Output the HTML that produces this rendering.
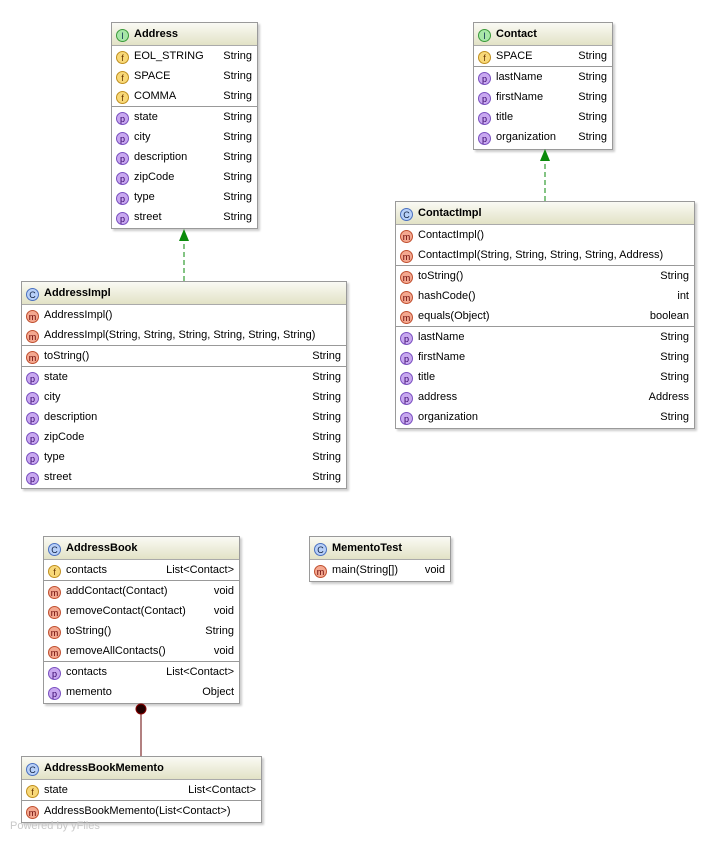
<!DOCTYPE html>
<html><head><meta charset="utf-8"><style>
body{margin:0;width:716px;height:843px;background:#fff;position:relative;font-family:"Liberation Sans",sans-serif;font-size:11px;color:#000;overflow:hidden}
.b{position:absolute;border:1px solid #9a9a9a;background:#fff;box-shadow:2px 2px 2px #ccc;box-sizing:border-box}
.h{height:23px;line-height:23px;font-weight:bold;background:linear-gradient(#fafaf4,#e2e2c6);padding-left:4px;border-bottom:1px solid #aaa;box-sizing:border-box;white-space:nowrap}
.r{height:20px;line-height:21px;position:relative;padding-left:4px;white-space:nowrap}
.r .t{position:absolute;right:5px;top:0}
.s{border-top:1px solid #999}
.i{display:inline-block;width:13px;height:13px;border-radius:50%;font-size:9px;line-height:12px;text-align:center;vertical-align:-2px;margin-right:5px;font-weight:normal;box-sizing:border-box}
.I{background:#a8e6a8;border:1px solid #3a9a3a;color:#135}
.C{background:#b8d0f8;border:1px solid #4a70c0;color:#124}
.f{background:#f8d878;border:1px solid #c09020;color:#630}
.m{background:#f4a890;border:1px solid #c05030;color:#600}
.p{background:#c8a8f0;border:1px solid #7a50c0;color:#306}
svg{z-index:5}
</style></head><body>

<div class="b" style="left:111px;top:22px;width:147px;height:207px">
<div class="h"><span class="i I">I</span>Address</div>
<div class="r"><span class="i f">f</span>EOL_STRING<span class="t">String</span></div>
<div class="r"><span class="i f">f</span>SPACE<span class="t">String</span></div>
<div class="r"><span class="i f">f</span>COMMA<span class="t">String</span></div>
<div class="r s"><span class="i p">p</span>state<span class="t">String</span></div>
<div class="r"><span class="i p">p</span>city<span class="t">String</span></div>
<div class="r"><span class="i p">p</span>description<span class="t">String</span></div>
<div class="r"><span class="i p">p</span>zipCode<span class="t">String</span></div>
<div class="r"><span class="i p">p</span>type<span class="t">String</span></div>
<div class="r"><span class="i p">p</span>street<span class="t">String</span></div>
</div>

<div class="b" style="left:473px;top:22px;width:140px;height:128px">
<div class="h"><span class="i I">I</span>Contact</div>
<div class="r"><span class="i f">f</span>SPACE<span class="t">String</span></div>
<div class="r s"><span class="i p">p</span>lastName<span class="t">String</span></div>
<div class="r"><span class="i p">p</span>firstName<span class="t">String</span></div>
<div class="r"><span class="i p">p</span>title<span class="t">String</span></div>
<div class="r"><span class="i p">p</span>organization<span class="t">String</span></div>
</div>

<div class="b" style="left:395px;top:201px;width:300px;height:228px">
<div class="h"><span class="i C">C</span>ContactImpl</div>
<div class="r"><span class="i m">m</span>ContactImpl()</div>
<div class="r"><span class="i m">m</span>ContactImpl(String, String, String, String, Address)</div>
<div class="r s"><span class="i m">m</span>toString()<span class="t">String</span></div>
<div class="r"><span class="i m">m</span>hashCode()<span class="t">int</span></div>
<div class="r"><span class="i m">m</span>equals(Object)<span class="t">boolean</span></div>
<div class="r s"><span class="i p">p</span>lastName<span class="t">String</span></div>
<div class="r"><span class="i p">p</span>firstName<span class="t">String</span></div>
<div class="r"><span class="i p">p</span>title<span class="t">String</span></div>
<div class="r"><span class="i p">p</span>address<span class="t">Address</span></div>
<div class="r"><span class="i p">p</span>organization<span class="t">String</span></div>
</div>

<div class="b" style="left:21px;top:281px;width:326px;height:208px">
<div class="h"><span class="i C">C</span>AddressImpl</div>
<div class="r"><span class="i m">m</span>AddressImpl()</div>
<div class="r"><span class="i m">m</span>AddressImpl(String, String, String, String, String, String)</div>
<div class="r s"><span class="i m">m</span>toString()<span class="t">String</span></div>
<div class="r s"><span class="i p">p</span>state<span class="t">String</span></div>
<div class="r"><span class="i p">p</span>city<span class="t">String</span></div>
<div class="r"><span class="i p">p</span>description<span class="t">String</span></div>
<div class="r"><span class="i p">p</span>zipCode<span class="t">String</span></div>
<div class="r"><span class="i p">p</span>type<span class="t">String</span></div>
<div class="r"><span class="i p">p</span>street<span class="t">String</span></div>
</div>

<div class="b" style="left:43px;top:536px;width:197px;height:168px">
<div class="h"><span class="i C">C</span>AddressBook</div>
<div class="r"><span class="i f">f</span>contacts<span class="t">List&lt;Contact&gt;</span></div>
<div class="r s"><span class="i m">m</span>addContact(Contact)<span class="t">void</span></div>
<div class="r"><span class="i m">m</span>removeContact(Contact)<span class="t">void</span></div>
<div class="r"><span class="i m">m</span>toString()<span class="t">String</span></div>
<div class="r"><span class="i m">m</span>removeAllContacts()<span class="t">void</span></div>
<div class="r s"><span class="i p">p</span>contacts<span class="t">List&lt;Contact&gt;</span></div>
<div class="r"><span class="i p">p</span>memento<span class="t">Object</span></div>
</div>

<div class="b" style="left:309px;top:536px;width:142px;height:46px">
<div class="h"><span class="i C">C</span>MementoTest</div>
<div class="r"><span class="i m">m</span>main(String[])<span class="t">void</span></div>
</div>

<div class="b" style="left:21px;top:756px;width:241px;height:67px">
<div class="h"><span class="i C">C</span>AddressBookMemento</div>
<div class="r"><span class="i f">f</span>state<span class="t">List&lt;Contact&gt;</span></div>
<div class="r s"><span class="i m">m</span>AddressBookMemento(List&lt;Contact&gt;)</div>
</div>

<svg width="716" height="843" style="position:absolute;left:0;top:0">
<line x1="184" y1="281" x2="184" y2="240" stroke="#0a8a0a" stroke-dasharray="5,3"/>
<polygon points="184,229 179,241 189,241" fill="#0a8a0a"/>
<line x1="545" y1="201" x2="545" y2="160" stroke="#0a8a0a" stroke-dasharray="5,3"/>
<polygon points="545,149 540,161 550,161" fill="#0a8a0a"/>
<line x1="141" y1="714" x2="141" y2="756" stroke="#600"/>
<circle cx="141" cy="709" r="5" fill="#200" stroke="#800"/>
</svg>

<div style="position:absolute;left:10px;top:820px;color:#c8c8c8;font-size:11px">Powered by yFiles</div>
</body></html>
